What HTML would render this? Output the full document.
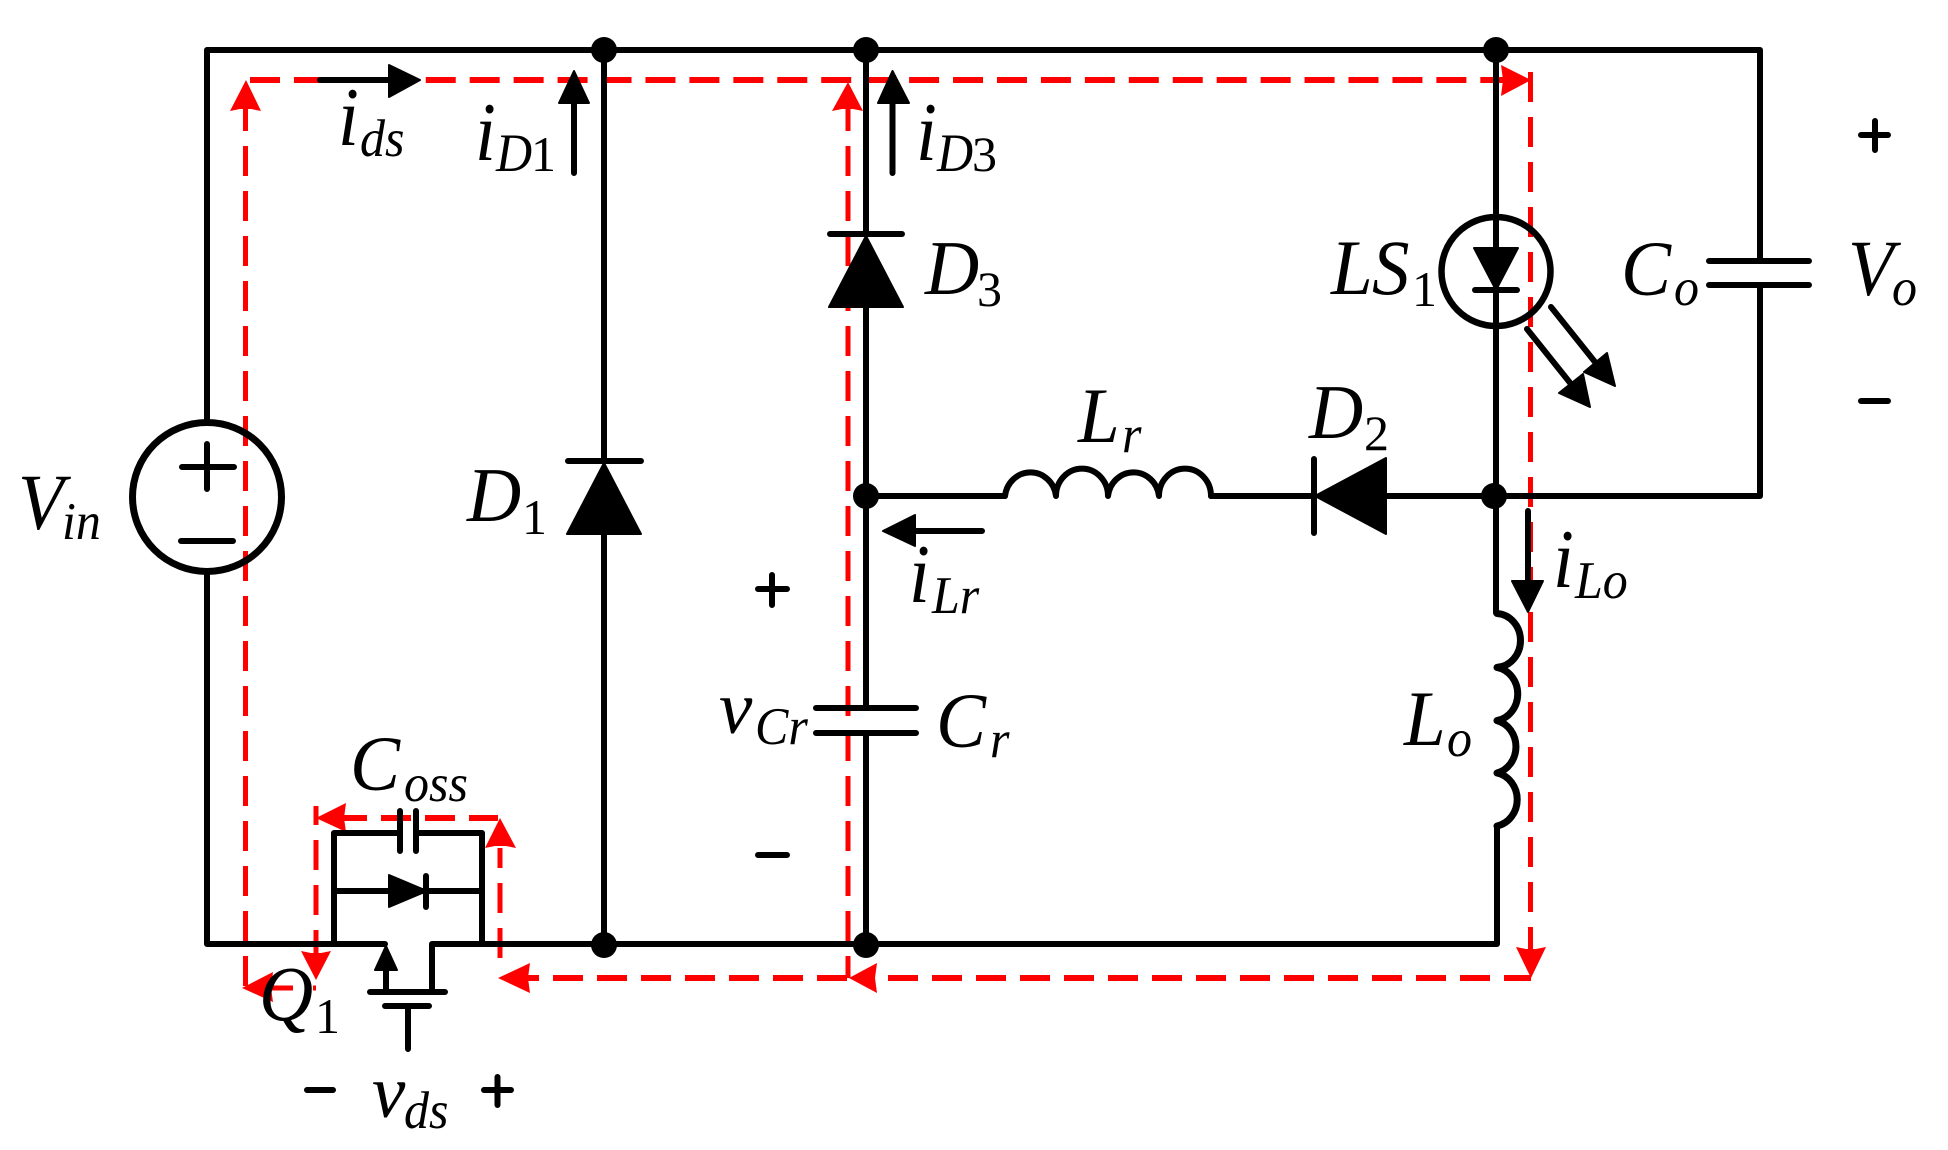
<!DOCTYPE html>
<html lang="en">
<head>
<meta charset="utf-8">
<title>Converter circuit diagram</title>
<style>
html,body{margin:0;padding:0;background:#fff;}
svg{display:block;}
text{font-family:"Liberation Serif",serif;fill:#000;}
.m{font-size:75px;font-style:italic;}
.s{font-size:50px;font-style:italic;}
.d{font-size:50px;}
</style>
</head>
<body>
<svg xmlns="http://www.w3.org/2000/svg" width="1948" height="1150" viewBox="0 0 1948 1150">
<rect width="1948" height="1150" fill="#fff"/>

<!-- red current paths -->
<g fill="none" stroke="#f00" stroke-width="5">
  <path d="M250 80H1505" stroke-width="6" stroke-dasharray="30 13.94"/>
  <path d="M245.500 101V987" stroke-dasharray="30 15"/>
  <path d="M848 101V978" stroke-dasharray="30 15"/>
  <path d="M1530.500 72V950" stroke-dasharray="30 15"/>
  <path d="M888 978H1531" stroke-width="6" stroke-dasharray="30 14"/>
  <path d="M509 978H848" stroke-width="6" stroke-dasharray="30 14"/>
  <path d="M316 840V975" stroke-dasharray="30 15"/>
  <path d="M316 806V825"/>
  <path d="M337 818H498" stroke-width="6" stroke-dasharray="30 14"/>
  <path d="M500 848V958" stroke-dasharray="20 15 30 15 30 15"/>
  <path d="M272 988H293M313 988H316" stroke-width="5"/>
</g>
<g fill="#f00">
  <polygon points="246,80 230,111 240,109 251,109 261,111"/>
  <polygon points="848,82 832,111 842,109 853,109 863,111"/>
  <polygon points="1531,80 1501,65 1503,80 1501,96"/>
  <polygon points="1531,978 1516,947 1526,949 1536,949 1546,947"/>
  <polygon points="849,978 877,963 875,978 877,993"/>
  <polygon points="498,978 530,963 528,978 530,993"/>
  <polygon points="500,818 485,848 495,846 506,846 516,848"/>
  <polygon points="316,818 346,803 344,818 346,832"/>
  <polygon points="316,980 301,951 311,953 321,953 331,951"/>
  <polygon points="242,988 273,972 271,988 273,1002"/>
</g>

<!-- wires -->
<g fill="none" stroke="#000" stroke-width="6" stroke-linejoin="round" stroke-linecap="round">
  <path d="M207 422V50H1760V261"/>
  <path d="M1760 285V496H1494"/>
  <path d="M207 572V944H385"/>
  <path d="M432 992V944H866"/>
  <path d="M604 50V461"/>
  <path d="M604 535V944"/>
  <path d="M866 50V234"/>
  <path d="M866 308V708"/>
  <path d="M866 733V944H1497V826"/>
  <path d="M1496 50V216"/>
  <path d="M1496 216V290"/>
  <path d="M1496 290V613"/>
  <path d="M866 496H1005"/>
  <path d="M1211 496H1314"/>
  <path d="M1387 496H1494"/>
  <!-- Lr -->
  <path d="M1005 496A25.700 27 0 0 1 1056 496A25.700 27 0 0 1 1108 496A25.700 27 0 0 1 1159 496A25.700 27 0 0 1 1211 496"/>
  <!-- Lo -->
  <path stroke-width="7" d="M1497 613.500A25 27 0 0 1 1497 667.400A25 27 0 0 1 1497 720.600A25 27 0 0 1 1497 773A25 27 0 0 1 1497 826"/>
  <!-- Vin -->
  <circle cx="207" cy="497" r="74.500" stroke-width="7"/>
  <path d="M182 467H234M207 444V489M181 541H233"/>
  <!-- LS1 -->
  <circle cx="1496" cy="271.500" r="54.500" stroke-width="6.500"/>
  <path d="M1475 290H1517"/>
  <!-- plates / diode bars -->
  <path d="M568 461H641M830 234H902M1314 459V533"/>
  <path d="M1709 261H1809M1709 285H1809M816 708H916M816 733H916"/>
  <!-- MOSFET block -->
  <path d="M334 944V833H400M482 944V833H416M400 811V851M416 811V851"/>
  <path d="M334 891H482M426 876V907"/>
  <path d="M370 992H445M385 1006H429M408 1006V1049M386 992V971"/>
  <!-- current arrows shafts -->
  <path d="M320 80H392M574 173V100M892.500 173V100M982 531H912M1528 511V585"/>
  <!-- LED arrows -->
  <path d="M1551 307L1595 362M1527 329L1571 384"/>
  <!-- plus minus -->
  <path d="M307 1090H333M484 1090H511M497.500 1077V1105"/>
  <path d="M1861 135H1888M1875 121V150M1861 401H1888"/>
  <path d="M758 589H787M772 575V605M758 855H787"/>
</g>

<!-- filled black shapes -->
<g fill="#000" stroke="#000" stroke-width="2" stroke-linejoin="round">
  <polygon points="604,463 567,534 641,534"/>
  <polygon points="866,236 829,307 903,307"/>
  <polygon points="1315,496 1386,458 1386,534"/>
  <polygon points="1474,248 1518,248 1496,290"/>
  <polygon points="427,891 389,875 389,907"/>
  <polygon points="386,946 375,970 397,970"/>
  <polygon points="420,80 389,65 389,97"/>
  <polygon points="574,71 559,103 589,103"/>
  <polygon points="892.500,71 878,103 909,103"/>
  <polygon points="883,531 915,515 915,546"/>
  <polygon points="1528,612 1512,581 1543,581"/>
  <polygon points="1615,386 1607,353 1584,372"/>
  <polygon points="1590,407 1583,374 1559,393"/>
</g>

<!-- junction dots -->
<g fill="#000">
  <circle cx="604" cy="50" r="13"/>
  <circle cx="866" cy="50" r="13"/>
  <circle cx="1496" cy="50" r="13"/>
  <circle cx="866" cy="496" r="13"/>
  <circle cx="1494" cy="496" r="13"/>
  <circle cx="604" cy="945" r="13"/>
  <circle cx="866" cy="945" r="13"/>
</g>

<!-- labels -->
<text class="m" transform="translate(18 529) scale(1 1.06)">V</text><text class="s" transform="translate(62 539) scale(1 1.06)">in</text>
<text class="m" transform="translate(467 521) scale(1 1.03)">D</text><text class="d" x="522" y="534">1</text>
<text class="m" transform="translate(338 145) scale(1 1.12)">i</text><text class="s" transform="translate(360 156) scale(1 1.06)">ds</text>
<text class="m" transform="translate(475 160) scale(1 1.12)">i</text><text class="s" transform="translate(496 171) scale(1 1.08)">D</text><text class="d" x="531" y="171">1</text>
<text class="m" transform="translate(916 160) scale(1 1.12)">i</text><text class="s" transform="translate(937 171) scale(1 1.08)">D</text><text class="d" x="972" y="171">3</text>
<text class="m" transform="translate(925 294) scale(1 1.03)">D</text><text class="d" x="977" y="306">3</text>
<text class="m" transform="translate(1331 294) scale(1 1.05)">L</text><text class="m" transform="translate(1372 294) scale(1 1.05)">S</text><text class="d" x="1412" y="306">1</text>
<text class="m" transform="translate(1621 295) scale(1 1.04)">C</text><text class="s" transform="translate(1674 305) scale(1 1.06)">o</text>
<text class="m" transform="translate(1848 295) scale(1 1.06)">V</text><text class="s" transform="translate(1892 305) scale(1 1.06)">o</text>
<text class="m" transform="translate(1078 442) scale(1 1.05)">L</text><text class="s" transform="translate(1122 452) scale(1 1.06)">r</text>
<text class="m" transform="translate(1309 438) scale(1 1.03)">D</text><text class="d" x="1364" y="450">2</text>
<text class="m" transform="translate(909 602) scale(1 1.12)">i</text><text class="s" transform="translate(932 613) scale(1 1.06)">Lr</text>
<text class="m" transform="translate(1553 587) scale(1 1.12)">i</text><text class="s" transform="translate(1575 598) scale(1 1.06)">Lo</text>
<text class="m" x="719" y="733">v</text><text class="s" transform="translate(755 744) scale(1 1.06)">Cr</text>
<text class="m" transform="translate(936 747) scale(1 1.04)">C</text><text class="s" transform="translate(990 757) scale(1 1.06)">r</text>
<text class="m" transform="translate(1404 745) scale(1 1.05)">L</text><text class="s" transform="translate(1447 756) scale(1 1.06)">o</text>
<text class="m" transform="translate(350 790) scale(1 1.04)">C</text><text class="s" transform="translate(404 801) scale(1 1.06)">oss</text>
<text class="m" transform="translate(259 1020) scale(1 1.05)">Q</text><text class="d" x="315" y="1033">1</text>
<text class="m" x="372" y="1117">v</text><text class="s" transform="translate(404 1128) scale(1 1.06)">ds</text>
</svg>
</body>
</html>
